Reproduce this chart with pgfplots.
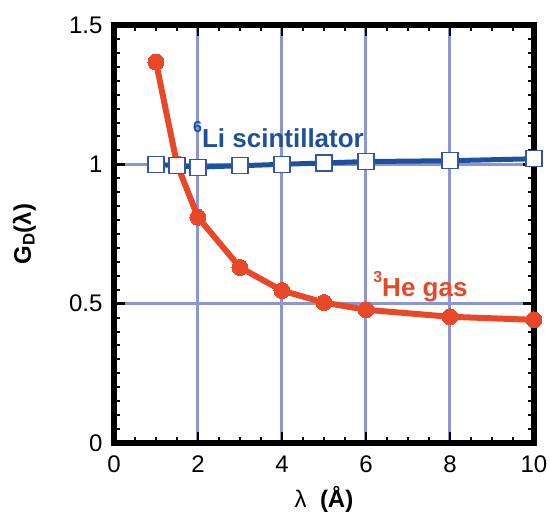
\documentclass[border=0pt]{standalone}
\usepackage{pgfplots}
\pgfplotsset{compat=1.18}
\usepackage{fontspec}
\setmainfont{Liberation Sans}

\definecolor{hered}{RGB}{232,72,40}
\definecolor{liblue}{RGB}{30,80,160}
\definecolor{sqedge}{RGB}{50,85,170}
\definecolor{gridc}{RGB}{140,150,210}

\begin{document}
\begin{tikzpicture}
\begin{axis}[
    scale only axis,
    width=420pt, height=418pt,
    xmin=0, xmax=10, ymin=0, ymax=1.5,
    xtick={0,2,4,6,8,10},
    ytick={0,0.5,1,1.5},
    minor x tick num=3,
    minor y tick num=9,
    tick align=inside,
    major tick length=11pt,
    minor tick length=6pt,
    every major tick/.append style={black, line width=2.5pt},
    every minor tick/.append style={black, line width=2pt},
    axis line style={line width=6.5pt},
    xmajorgrids, ymajorgrids,
    major grid style={gridc, line width=3pt},
    tick label style={font=\fontsize{24}{24}\selectfont},
    xticklabel style={yshift=-9pt},
    yticklabel style={xshift=-8pt},
    /pgf/number format/assume math mode=true,
    xlabel={λ\ \ \textbf{(Å)}},
    ylabel={\textbf{G\textsubscript{D}(λ)}},
    label style={font=\fontsize{24}{24}\selectfont},
    xlabel style={at={(axis description cs:0.5,-0.155)}, anchor=base},
    ylabel style={at={(axis description cs:-0.198,0.5)}, anchor=base},
    clip=false,
]

% 3He gas
\addplot[hered, line width=6pt, mark=*, mark size=8pt,
    mark options={fill=hered, draw=hered, line width=0pt}] coordinates {
    (1,1.367) (1.5,1.00) (2,0.81) (3,0.63) (4,0.547) (5,0.504)
    (6,0.478) (8,0.453) (10,0.442)
};

% 6Li scintillator
\addplot[liblue, line width=5pt, mark=square*, mark size=8pt,
    mark options={fill=white, draw=sqedge, line width=1.2pt}] coordinates {
    (1,1.0) (1.5,0.995) (2,0.99) (3,0.995) (4,1.0) (5,1.005)
    (6,1.01) (8,1.013) (10,1.02)
};

\node[anchor=base west, inner sep=0, text=liblue,
    font=\bfseries\fontsize{26}{26}\selectfont] at (axis cs:1.88,1.062)
    {\raisebox{15pt}{\fontsize{16}{16}\selectfont 6}Li scintillator};
\node[anchor=base west, inner sep=0, text=hered,
    font=\bfseries\fontsize{26}{26}\selectfont] at (axis cs:6.17,0.527)
    {\raisebox{14pt}{\fontsize{16}{16}\selectfont 3}He gas};
\end{axis}
\pgfresetboundingbox
\path (-114pt,-72pt) rectangle (436pt,443pt);
\end{tikzpicture}
\end{document}
